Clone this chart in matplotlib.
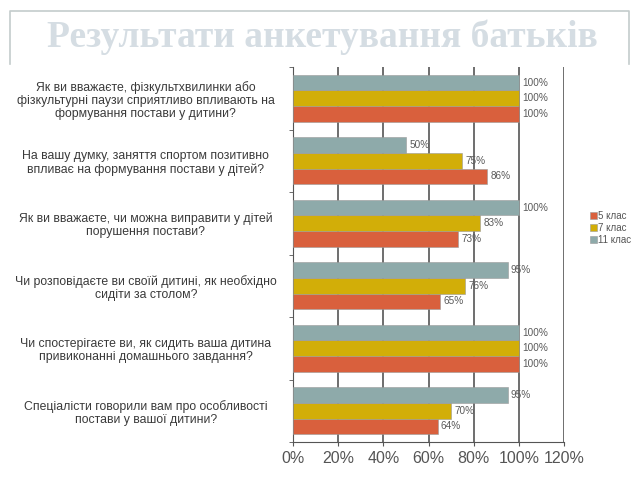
import numpy as np
import matplotlib.pyplot as plt

questions = [
    "Як ви вважаєте, фізкультхвилинки або\nфізкультурні паузи сприятливо впливають на\nформування постави у дитини?",
    "На вашу думку, заняття спортом позитивно\nвпливає на формування постави у дітей?",
    "Як ви вважаєте, чи можна виправити у дітей\nпорушення постави?",
    "Чи розповідаєте ви своїй дитині, як необхідно\nсидіти за столом?",
    "Чи спостерігаєте ви, як сидить ваша дитина\nпривиконанні домашнього завдання?",
    "Спеціалісти говорили вам про особливості\nпостави у вашої дитини?",
]
klas5 = [100, 86, 73, 65, 100, 64]
klas7 = [100, 75, 83, 76, 100, 70]
klas11 = [100, 50, 100, 95, 100, 95]
series_names = ["5 клас", "7 клас", "11 клас"]
colors = ["#d9603d", "#d2ae08", "#8eaaaa"]
xticks = [0, 20, 40, 60, 80, 100, 120]

plt.rcParams['font.family'] = ['Liberation Sans', 'DejaVu Sans']

fig = plt.figure(figsize=(6.4, 4.8), dpi=100)

# title frame
frame = fig.add_axes([0, 0, 1, 1], zorder=-1)
frame.set_xlim(0, 640)
frame.set_ylim(480, 0)
frame.axis('off')
frame.plot([10, 10, 629, 629], [64, 11, 11, 64], color='#c4cccc', lw=1.2)
frame.text(322, 37, "Результати анкетування батьків", ha='center', va='center',
           fontsize=27, fontweight='bold', family=['Liberation Serif', 'DejaVu Serif'],
           color='#d5dde3')

ax = fig.add_axes([293 / 640, 1 - 442 / 480, 271 / 640, 375 / 480])
n = len(questions)
y = np.arange(n)[::-1].astype(float)
h = 0.25
data = [klas5, klas7, klas11]
offsets = [-h, 0, h]
for vals, off, c, name in zip(data, offsets, colors, series_names):
    bars = ax.barh(y + off, vals, height=h, color=c, edgecolor='#9a9a9a',
                   linewidth=0.4, label=name, zorder=3)
    for b, v in zip(bars, vals):
        ax.text(v + 1.5, b.get_y() + h / 2, f"{v}%", va='center',
                ha='left', fontsize=7.2, color='#5a5a5a', zorder=4)

ax.set_xlim(0, 120)
ax.set_ylim(-0.5, n - 0.5)
ax.set_xticks(xticks)
ax.set_xticklabels([f"{t}%" for t in xticks], fontsize=11.5, color='#555555')
ax.set_yticks(y)
ax.set_yticklabels(questions, fontsize=8.8, color='#3a3a3a', ha='center',
                   linespacing=1.15)
ax.tick_params(axis='y', length=0, pad=106)
ax.set_yticks(np.arange(n + 1) - 0.5, minor=True)
ax.tick_params(axis='y', which='minor', length=3, color='#555555')
ax.tick_params(axis='x', length=3, color='#555555')
ax.xaxis.grid(True, color='#555555', linewidth=1.2, zorder=0)
ax.set_axisbelow(True)
for s in ['top', 'right']:
    ax.spines[s].set_visible(False)
ax.spines['left'].set_color('#555555')
ax.spines['bottom'].set_color('#555555')

handles, labels = ax.get_legend_handles_labels()
fig.legend(handles, labels, loc='center left', bbox_to_anchor=(581 / 640, 1 - 228 / 480),
           frameon=False, fontsize=7, handlelength=0.7, handleheight=0.7,
           handletextpad=0.2, labelspacing=0.2, labelcolor='#555555')

fig.savefig('out.png', dpi=100)
